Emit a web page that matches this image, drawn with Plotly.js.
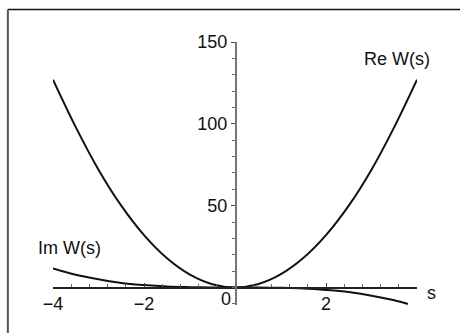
<!DOCTYPE html>
<html>
<head>
<meta charset="utf-8">
<script src="https://cdn.plot.ly/plotly-3.0.1.min.js"></script>
<style>html,body{margin:0;padding:0;background:#fff;}#chart{width:460px;height:333px;}</style>
</head>
<body>
<div id="chart"></div>
<script>
// s values (x) shared by both curves
const sValues = [-4, -3.5, -3, -2.5, -2, -1.5, -1, -0.5, 0, 0.5, 1, 1.5, 2, 2.5, 3, 3.5, 4];
// Re W(s)
const reW = [127, 98, 72, 50, 32, 18, 8, 2, 0, 2, 8, 18, 32, 50, 72, 98, 127];
// Im W(s) (curve leaves the plot near s = 3.8)
const imS = [-4, -3.5, -3, -2.5, -2, -1.5, -1, -0.5, 0, 0.5, 1, 1.5, 2, 2.5, 3, 3.5, 3.8];
const imW = [11.7, 7.8, 5.0, 2.8, 1.5, 0.6, 0.2, 0.02, 0, -0.02, -0.2, -0.6, -1.5, -2.8, -5.0, -7.8, -10.1];
const xTicks = [-4, -2, 2];
const xTickText = ['\u22124', '\u22122', '2'];
const yTicks = [50, 100, 150];

const font = {family: 'Liberation Sans, Arial, sans-serif', size: 18, color: '#111'};

const traces = [
  {x: sValues, y: reW, mode: 'lines', line: {color: '#111', width: 2, shape: 'spline'}, hoverinfo: 'skip'},
  {x: imS, y: imW, mode: 'lines', line: {color: '#111', width: 2, shape: 'spline'}, hoverinfo: 'skip'}
];

const yMin = -10.7, yMax = 150;
const layout = {
  width: 460, height: 333,
  margin: {l: 53, r: 43, t: 42, b: 28},
  paper_bgcolor: '#fff', plot_bgcolor: 'rgba(0,0,0,0)',
  showlegend: false,
  font: font,
  xaxis: {
    range: [-4, 4], showgrid: false, zeroline: false,
    showline: true, linecolor: '#222', linewidth: 1.3,
    anchor: 'free', position: (0 - yMin) / (yMax - yMin),
    tickmode: 'array', tickvals: xTicks, ticktext: xTickText,
    ticks: 'inside', ticklen: 4, tickcolor: '#444', tickwidth: 1,
    minor: {dtick: 0.4, tick0: 0, ticks: 'inside', ticklen: 3, tickcolor: '#666'},
    tickfont: font
  },
  yaxis: {
    range: [yMin, yMax], showgrid: false, zeroline: false,
    showline: true, linecolor: '#777', linewidth: 1.5,
    anchor: 'free', position: 0.5,
    tickmode: 'array', tickvals: yTicks,
    ticks: 'outside', ticklen: 4, tickcolor: '#444', tickwidth: 1,
    minor: {dtick: 10, tick0: 0, ticks: 'outside', ticklen: 3, tickcolor: '#666'},
    tickfont: font
  },
  shapes: [
    {type: 'line', xref: 'paper', yref: 'paper', x0: -0.124, x1: 1.2, y0: 1.1236, y1: 1.1236, line: {color: '#111', width: 1.5}},
    {type: 'line', xref: 'paper', yref: 'paper', x0: -0.124, x1: -0.124, y0: 1.1236, y1: -0.2, line: {color: '#555', width: 2}}
  ],
  annotations: [
    {x: 3.56, y: 139.6, xref: 'x', yref: 'y', text: 'Re W(s)', showarrow: false, font: font},
    {x: -3.64, y: 24, xref: 'x', yref: 'y', text: 'Im W(s)', showarrow: false, font: font},
    {x: -0.2, y: -7, xref: 'x', yref: 'y', text: '0', showarrow: false, font: font},
    {x: 1.041, y: 0.046, xref: 'paper', yref: 'paper', xanchor: 'center', yanchor: 'middle', text: 's', showarrow: false, font: font}
  ]
};

Plotly.newPlot('chart', traces, layout, {staticPlot: true, displayModeBar: false});
</script>
</body>
</html>
